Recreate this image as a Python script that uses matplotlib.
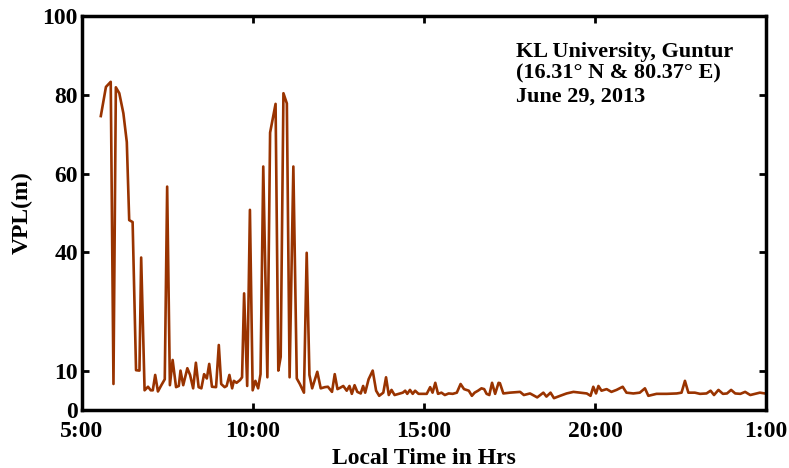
import matplotlib.pyplot as plt

# ==================
# VPL data (hours, metres)
HOURS = [5.55, 5.70, 5.84, 5.92, 5.99, 6.09, 6.21, 6.31, 6.38, 6.48, 6.58, 6.68, 6.73, 6.83, 6.93,
         7.01, 7.07, 7.14, 7.22, 7.32, 7.42, 7.49, 7.57, 7.65, 7.75, 7.83, 7.88, 7.96, 8.08, 8.16,
         8.25, 8.33, 8.41, 8.49, 8.57, 8.65, 8.72, 8.80, 8.92, 9.00, 9.07, 9.17, 9.23, 9.31, 9.39,
         9.44, 9.52, 9.62, 9.68, 9.74, 9.83, 9.91, 9.99, 10.07, 10.15, 10.22, 10.30, 10.42, 10.50,
         10.58, 10.66, 10.74, 10.81, 10.89, 10.99, 11.07, 11.18, 11.28, 11.37, 11.49, 11.57, 11.65,
         11.73, 11.88, 11.98, 12.10, 12.19, 12.31, 12.39, 12.47, 12.54, 12.64, 12.74, 12.82, 12.89,
         12.97, 13.05, 13.15, 13.22, 13.28, 13.38, 13.50, 13.60, 13.69, 13.81, 13.89, 13.97, 14.05,
         14.14, 14.26, 14.38, 14.45, 14.51, 14.59, 14.67, 14.74, 14.84, 14.98, 15.08, 15.18, 15.25,
         15.33, 15.41, 15.51, 15.61, 15.72, 15.84, 15.96, 16.07, 16.17, 16.31, 16.40, 16.48, 16.58,
         16.68, 16.76, 16.83, 16.91, 16.99, 17.08, 17.18, 17.22, 17.32, 17.51, 17.81, 17.92, 18.10,
         18.31, 18.49, 18.58, 18.70, 18.80, 18.98, 19.17, 19.37, 19.56, 19.76, 19.87, 19.95, 20.03,
         20.10, 20.19, 20.34, 20.48, 20.63, 20.81, 20.92, 21.12, 21.31, 21.46, 21.56, 21.80, 22.10,
         22.39, 22.53, 22.63, 22.73, 22.92, 23.07, 23.26, 23.38, 23.48, 23.61, 23.74, 23.86, 23.98,
         24.10, 24.25, 24.39, 24.54, 24.68, 24.82, 24.97]
VPL = [74.6, 82.0, 83.3, 6.6, 81.9, 80.4, 75.3, 68.0, 48.2, 47.7, 10.1, 10.0, 38.7, 5.0, 5.9,
       5.0, 5.0, 8.9, 4.7, 6.3, 7.8, 56.7, 6.3, 12.7, 5.8, 6.1, 10.0, 6.3, 10.6, 8.9,
       5.5, 12.0, 5.8, 5.5, 9.1, 8.0, 11.7, 5.9, 5.8, 16.5, 6.6, 5.8, 6.1, 8.9, 5.5,
       7.4, 6.9, 7.6, 8.3, 29.6, 6.1, 50.8, 5.0, 7.4, 5.5, 9.1, 61.8, 8.3, 70.4,
       74.0, 77.7, 10.0, 13.5, 80.4, 77.8, 8.3, 61.8, 8.0, 6.6, 4.4, 39.9, 8.9,
       5.5, 9.7, 5.5, 5.8, 5.9, 4.6, 9.1, 5.3, 5.6, 6.1, 4.9, 6.1, 4.1,
       6.3, 4.6, 4.2, 6.1, 4.4, 7.8, 10.0, 4.9, 3.6, 4.4, 8.3, 3.8, 5.1,
       3.8, 4.1, 4.4, 4.9, 4.1, 5.1, 4.1, 4.9, 4.1, 4.1, 4.1, 5.8, 4.4,
       6.9, 4.1, 4.4, 3.8, 4.2, 4.1, 4.4, 6.6, 5.3, 4.9, 3.6, 4.4, 4.9,
       5.5, 5.3, 4.1, 3.8, 6.9, 4.1, 6.9, 6.8, 4.2, 4.4, 4.6, 3.8, 4.2,
       3.2, 4.4, 3.4, 4.4, 3.0, 3.6, 4.2, 4.6, 4.4, 4.2, 3.6, 5.9, 4.2,
       6.1, 4.9, 5.3, 4.6, 5.1, 5.9, 4.4, 4.2, 4.4, 5.5, 3.6, 4.1, 4.1,
       4.2, 4.4, 7.4, 4.4, 4.4, 4.1, 4.2, 4.9, 3.8, 5.1, 4.1, 4.2, 5.1,
       4.2, 4.1, 4.6, 3.8, 4.1, 4.4, 4.2]

X_TICKS = [5, 10, 15, 20, 25]
X_LABELS = ["5:00", "10:00", "15:00", "20:00", "1:00"]
Y_TICKS = [0, 10, 40, 60, 80, 100]
INFO = "KL University, Guntur\n(16.31\u00b0 N & 80.37\u00b0 E)\nJune 29, 2013"
# ===================

plt.rcParams['font.family'] = ['Liberation Serif', 'DejaVu Serif']
plt.rcParams['font.weight'] = 'bold'

fig = plt.figure(figsize=(7.89, 4.68), dpi=100)
ax = fig.add_axes([82 / 789, 58 / 468, 684 / 789, 394 / 468])

ax.plot(HOURS, VPL, color='#993300', lw=1.9)

ax.set_xlim(5, 25)
ax.set_ylim(0, 100)
ax.set_xticks(X_TICKS)
ax.set_xticklabels(X_LABELS)
ax.set_yticks(Y_TICKS)
ax.tick_params(direction='in', length=5, width=2, top=True, right=True,
               labelsize=17, pad=3)
ax.tick_params(axis='x', pad=8)
for lab in ax.get_xticklabels() + ax.get_yticklabels():
    lab.set_fontweight('bold')
for s in ax.spines.values():
    s.set_linewidth(2.5)

ax.set_xlabel("Local Time in Hrs", fontsize=17, fontweight='bold', labelpad=4)
ax.set_ylabel("VPL(m)", fontsize=17, fontweight='bold', labelpad=7)

ax.text(0.635, 0.935, INFO, transform=ax.transAxes, ha='left', va='top',
        fontsize=16, fontweight='bold', linespacing=1.15)

plt.savefig("out.png", dpi=100)
